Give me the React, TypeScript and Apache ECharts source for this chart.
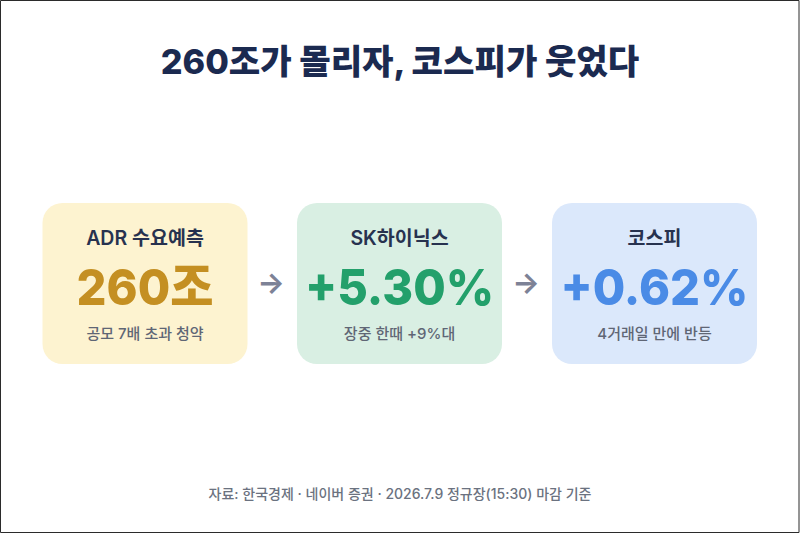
import * as echarts from 'echarts';
import { useEffect, useRef } from 'react';

const chartTitle = '260조가 몰리자, 코스피가 웃었다';
const sourceNote = '자료: 한국경제 · 네이버 증권 · 2026.7.9 정규장(15:30) 마감 기준';

const cardLabels = ['ADR 수요예측', 'SK하이닉스', '코스피'];
const cardValues = ['260조', '+5.30%', '+0.62%'];
const cardNotes = ['공모 7배 초과 청약', '장중 한때 +9%대', '4거래일 만에 반등'];

const cardFills = ['#fdf3d0', '#d9efe3', '#dbe8fb'];
const valueColors = ['#c48f22', '#23a06b', '#4a8be6'];
const cardLefts = [42.5, 297, 552];
const arrowCenters = [271, 526];

const FONT = "Inter, 'Noto Sans CJK KR', sans-serif";
const CARD_WIDTH = 205;
const CARD_TOP = 203;
const CARD_HEIGHT = 161;

const centered = (x: number, y: number, text: string, fontSize: number, fontWeight: number, fill: string) => ({
  type: 'text',
  x,
  y,
  style: { text, fontSize, fontWeight, fill, fontFamily: FONT, textAlign: 'center', textVerticalAlign: 'middle' }
});

export default function App() {
  const chartRef = useRef<HTMLDivElement>(null);

  useEffect(() => {
    if (!chartRef.current) return;

    const chart = echarts.init(chartRef.current, undefined, { renderer: 'svg' });

    const cards = cardLabels.flatMap((label, i) => {
      const mid = cardLefts[i] + CARD_WIDTH / 2;
      return [
        {
          type: 'rect',
          shape: { x: cardLefts[i], y: CARD_TOP, width: CARD_WIDTH, height: CARD_HEIGHT, r: 20 },
          style: { fill: cardFills[i] }
        },
        centered(mid, 238, label, 19.5, 600, '#27324f'),
        // no letter spacing in zrender, so squeeze the heavy numbers instead
        { ...centered(mid, 287, cardValues[i], 50, 800, valueColors[i]), scaleX: 0.94 },
        centered(mid, 333, cardNotes[i], 15, 500, '#5f6675')
      ];
    });

    const arrows = arrowCenters.map((x) => centered(x, 282, '→', 29, 700, '#7d8296'));

    chart.setOption({
      animation: false,
      backgroundColor: '#ffffff',
      graphic: [
        {
          type: 'rect',
          shape: { x: 0.5, y: 0.5, width: 798.5, height: 532 },
          style: { fill: '#ffffff', stroke: '#2b2b2b', lineWidth: 1 }
        },
        centered(400, 61, chartTitle, 34.2, 800, '#1b2a50'),
        ...cards,
        ...arrows,
        centered(400, 493, sourceNote, 14, 500, '#6b7280')
      ]
    });

    return () => {
      chart.dispose();
    };
  }, []);

  return <div ref={chartRef} style={{ position: 'absolute', left: 0, top: 0, width: 800, height: 533 }} />;
}
